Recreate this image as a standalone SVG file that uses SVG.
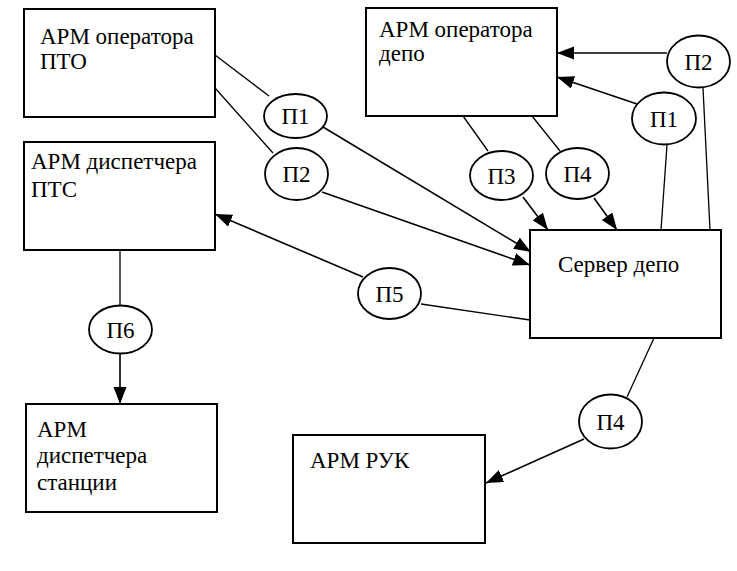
<svg xmlns="http://www.w3.org/2000/svg" width="737" height="571" viewBox="0 0 737 571" font-family="Liberation Serif, Times New Roman, serif" font-size="23">
<style>
.box{fill:#fff;stroke:#000;stroke-width:2}
.el{fill:#fff;stroke:#000;stroke-width:1.8}
.c{text-anchor:middle}
.ln{stroke:#000;stroke-width:1.3;fill:none}
.ar{stroke:#000;stroke-width:1.6;fill:none;marker-end:url(#ah)}
</style>
<defs>
<marker id="ah" markerUnits="userSpaceOnUse" markerWidth="18" markerHeight="14" refX="17" refY="6.5" orient="auto">
<path d="M0,0 L17,6.5 L0,13 z" fill="#000"/>
</marker>
</defs>
<rect width="737" height="571" fill="#fff"/>
<g id="connectors">
<line class="ln" x1="215" y1="55" x2="269" y2="96"/>
<line class="ar" x1="323" y1="127" x2="531" y2="252"/>
<line class="ln" x1="215" y1="88" x2="273" y2="153"/>
<line class="ar" x1="322" y1="192" x2="530" y2="265"/>
<line class="ln" x1="530" y1="320" x2="421" y2="304"/>
<line class="ar" x1="363" y1="277" x2="215" y2="214"/>
<line class="ln" x1="120" y1="250" x2="120" y2="306"/>
<line class="ar" x1="120" y1="353" x2="120" y2="404"/>
<line class="ln" x1="463" y1="116" x2="488" y2="151"/>
<line class="ar" x1="523" y1="197" x2="548" y2="230"/>
<line class="ln" x1="532" y1="116" x2="560" y2="151"/>
<line class="ar" x1="594" y1="198" x2="617" y2="230"/>
<line class="ln" x1="661" y1="230" x2="667" y2="145"/>
<line class="ar" x1="637" y1="104" x2="557" y2="77"/>
<line class="ln" x1="710" y1="230" x2="703" y2="88"/>
<line class="ar" x1="667" y1="53" x2="557" y2="53"/>
<line class="ln" x1="654" y1="338" x2="627" y2="397"/>
<line class="ar" x1="584" y1="439" x2="486" y2="483"/>
</g>
<g id="n-pto">
<rect class="box" x="24" y="9" width="191" height="108"/>
<text x="40" y="44">АРМ оператора</text>
<text x="40" y="69">ПТО</text>
</g>
<g id="n-pts">
<rect class="box" x="24" y="142" width="191" height="108"/>
<text x="31" y="169">АРМ диспетчера</text>
<text x="31" y="197">ПТС</text>
</g>
<g id="n-depo">
<rect class="box" x="366" y="8" width="191" height="108"/>
<text x="379" y="37">АРМ оператора</text>
<text x="379" y="61">депо</text>
</g>
<g id="n-server">
<rect class="box" x="530" y="230" width="191" height="108"/>
<text x="558" y="272">Сервер депо</text>
</g>
<g id="n-station">
<rect class="box" x="26" y="404" width="191" height="108"/>
<text x="37" y="437">АРМ</text>
<text x="37" y="463">диспетчера</text>
<text x="37" y="490">станции</text>
</g>
<g id="n-ruk">
<rect class="box" x="293" y="435" width="192" height="108"/>
<text x="310" y="468">АРМ РУК</text>
</g>
<g id="e-p1a"><ellipse class="el" cx="295.5" cy="116" rx="31.5" ry="22"/><text class="c" x="295.5" y="124">П1</text></g>
<g id="e-p2a"><ellipse class="el" cx="296.5" cy="174" rx="31.5" ry="26"/><text class="c" x="296.5" y="182">П2</text></g>
<g id="e-p5"><ellipse class="el" cx="389.5" cy="293.5" rx="31.5" ry="25.5"/><text class="c" x="389.5" y="302">П5</text></g>
<g id="e-p6"><ellipse class="el" cx="120.5" cy="329.5" rx="31.5" ry="24"/><text class="c" x="120.5" y="338">П6</text></g>
<g id="e-p3"><ellipse class="el" cx="501.5" cy="175.5" rx="31.5" ry="24.5"/><text class="c" x="501.5" y="184">П3</text></g>
<g id="e-p4a"><ellipse class="el" cx="577.5" cy="173.5" rx="31.5" ry="25.5"/><text class="c" x="577.5" y="182">П4</text></g>
<g id="e-p1b"><ellipse class="el" cx="664" cy="118.5" rx="32" ry="26"/><text class="c" x="664" y="127">П1</text></g>
<g id="e-p2b"><ellipse class="el" cx="698.5" cy="61.5" rx="31.5" ry="26"/><text class="c" x="698.5" y="70">П2</text></g>
<g id="e-p4b"><ellipse class="el" cx="610.5" cy="421.5" rx="31.5" ry="27"/><text class="c" x="610.5" y="430">П4</text></g>
</svg>
